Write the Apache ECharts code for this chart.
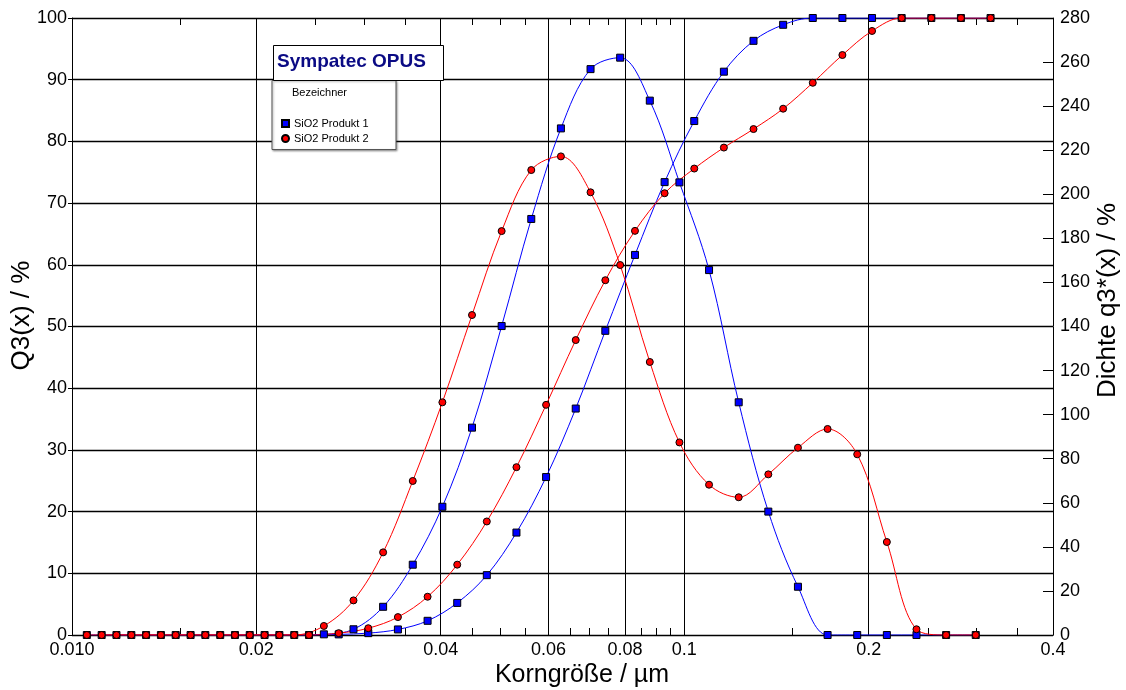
<!DOCTYPE html>
<html>
<head>
<meta charset="utf-8">
<script src="https://cdn.jsdelivr.net/npm/echarts@6/dist/echarts.min.js"></script>
<style>
html,body{margin:0;padding:0;background:#fff;}
#chart{width:1126px;height:690px;}
</style>
</head>
<body>
<div id="chart"></div>
<script>
// ---- data ----
// upper class limits (µm) where the cumulative Q3 values are given
const q3Sizes = [0.01118,0.01250,0.01397,0.01562,0.01746,0.01951,0.02181,0.02438,0.02726,0.03047,
  0.03406,0.03808,0.04257,0.04758,0.05319,0.05946,0.06647,0.07430,0.08306,0.09285,
  0.10380,0.11603,0.12971,0.14500,0.16209,0.18119,0.20255,0.22642,0.25311,0.28294,0.31629];
// class midpoints (µm) where the density q3* values are given
const densSizes = [0.010573,0.011819,0.013212,0.014769,0.016510,0.018456,0.020632,0.023064,0.025782,0.028821,
  0.032217,0.036015,0.040260,0.045005,0.050310,0.056240,0.062869,0.070279,0.078562,0.087822,
  0.098173,0.10974,0.12268,0.13714,0.15330,0.17137,0.19157,0.21415,0.23939,0.26761,0.29915];

const q3Produkt1 = [0,0,0,0,0,0,0,0,0.1,0.3,0.9,2.3,5.2,9.7,16.6,25.6,36.7,49.3,61.6,73.4,
  83.3,91.3,96.3,98.9,100,100,100,100,100,100,100];
const densProdukt1 = [0,0,0,0,0,0,0,0,0.3,2.6,12.8,31.9,58.2,94.1,140.2,188.8,229.9,256.8,262.0,242.5,
  205.4,165.6,105.6,56.0,21.9,0,0,0,0,0,0];
const q3Produkt2 = [0,0,0,0,0,0,0,0,0.3,1.1,2.9,6.2,11.4,18.4,27.2,37.3,47.8,57.5,65.5,71.6,
  75.6,79.0,82.0,85.3,89.5,94.0,97.9,100,100,100,100];
const densProdukt2 = [0,0,0,0,0,0,0,0,4.1,15.7,37.5,69.9,105.6,145.2,183.3,211.0,217.2,200.9,167.9,123.9,
  87.4,68.2,62.5,72.9,85.0,93.5,82.0,42.2,2.6,0,0];

const seriesNames = ['SiO2 Produkt 1','SiO2 Produkt 2'];

const xLabelValues = [0.01,0.02,0.04,0.06,0.08,0.1,0.2,0.4];
const xLabelTexts  = ['0.010','0.02','0.04','0.06','0.08','0.1','0.2','0.4'];
const xGridValues  = [0.02,0.04,0.06,0.08,0.1,0.2];
const xMinorValues = [0.015,0.025,0.03,0.035,0.045,0.05,0.055,0.065,0.07,0.075,0.085,0.09,0.095,0.15,0.25,0.3,0.35];

const X_MIN = 0.01, X_MAX = 0.4;
const FONT = "'Liberation Sans', Arial, sans-serif";

// ---- helpers ----
const zip = (xs, ys) => xs.map((x, i) => [x, ys[i]]);
const lg = v => Math.log10(v);
const LX_MIN = lg(X_MIN), LX_MAX = lg(X_MAX);
function xLabelFmt(v) {
  const i = xLabelValues.findIndex(t => Math.abs(lg(t) - v) < 1e-6);
  return i >= 0 ? xLabelTexts[i] : '';
}

const BLUE = '#0000ff', RED = '#ff0000';

function lineSeries(name, xs, ys, yIdx, color, symbol) {
  return {
    name: name, type: 'line', xAxisIndex: 0, yAxisIndex: yIdx,
    data: zip(xs, ys), smooth: 0.35, showAllSymbol: true,
    symbol: symbol, symbolSize: 7,
    lineStyle: { color: color, width: 1 },
    itemStyle: { color: color, borderColor: '#000', borderWidth: 1 },
    emphasis: { disabled: true }, z: 3
  };
}

const chart = echarts.init(document.getElementById('chart'), null, { renderer: 'canvas' });
chart.setOption({
  animation: false,
  backgroundColor: '#fff',
  textStyle: { fontFamily: FONT },
  grid: { left: 72, right: 73, top: 18, bottom: 55, containLabel: false, outerBoundsMode: 'none' },
  legend: {
    left: 276, top: 113, orient: 'vertical',
    itemWidth: 7, itemHeight: 7, itemGap: 4, itemTextGap: 10,
    selectedMode: false, z: 6,
    textStyle: { fontSize: 11, color: '#000', fontFamily: FONT },
    data: [{ name: seriesNames[0], icon: 'rect' }, { name: seriesNames[1], icon: 'circle' }]
  },
  graphic: [
    { type: 'rect', z: 5, shape: { x: 272, y: 80.5, width: 124, height: 69 },
      style: { fill: '#fff', stroke: '#555', lineWidth: 1, shadowBlur: 2, shadowColor: 'rgba(0,0,0,0.35)', shadowOffsetX: 1, shadowOffsetY: 1 } },
    { type: 'text', z: 6, left: 292, top: 87,
      style: { text: 'Bezeichner', fontSize: 11, fill: '#000', fontFamily: FONT } },
    { type: 'rect', z: 5, shape: { x: 273.5, y: 45.5, width: 170, height: 35 },
      style: { fill: '#fff', stroke: '#000', lineWidth: 1 } },
    { type: 'text', z: 6, left: 277, top: 52,
      style: { text: 'Sympatec OPUS', fontSize: 19, fontWeight: 'bold', fill: '#0a0a84', fontFamily: FONT } }
  ],
  xAxis: [
    { type: 'log', logBase: 10, min: X_MIN, max: X_MAX, show: false, position: 'bottom' },
    { type: 'value', min: LX_MIN, max: LX_MAX, position: 'bottom',
      axisLine: { show: true, onZero: false, lineStyle: { color: '#000', width: 1 } },
      axisTick: { show: false, customValues: xGridValues.map(lg) },
      splitLine: { show: true, lineStyle: { color: '#000', width: 1 } },
      axisLabel: { customValues: xLabelValues.map(lg), formatter: xLabelFmt,
        fontSize: 18, color: '#000', margin: 6, fontFamily: FONT },
      name: 'Korngröße / µm', nameLocation: 'middle', nameGap: 28, nameMoveOverlap: false,
      nameTextStyle: { fontSize: 25, color: '#000', fontFamily: FONT, padding: [0, 0, 0, 39] }
    },
    { type: 'value', min: LX_MIN, max: LX_MAX, position: 'bottom',
      axisLine: { show: false },
      axisTick: { show: true, inside: true, length: 7, customValues: xMinorValues.map(lg), lineStyle: { color: '#000', width: 1 } },
      splitLine: { show: false }, axisLabel: { show: false }
    },
    { type: 'value', min: LX_MIN, max: LX_MAX, position: 'top',
      axisLine: { show: true, onZero: false, lineStyle: { color: '#000', width: 1 } },
      axisTick: { show: true, inside: true, length: 7, customValues: xMinorValues.map(lg), lineStyle: { color: '#000', width: 1 } },
      splitLine: { show: false }, axisLabel: { show: false }
    }
  ],
  yAxis: [
    { type: 'value', min: 0, max: 100, interval: 10, position: 'left',
      axisLine: { show: true, onZero: false, lineStyle: { color: '#000', width: 1 } },
      axisTick: { show: true, inside: false, length: 4, lineStyle: { color: '#000' } },
      splitLine: { show: true, lineStyle: { color: '#000', width: 1.4 } },
      axisLabel: { fontSize: 18, color: '#000', margin: 5, fontFamily: FONT },
      name: 'Q3(x) / %', nameLocation: 'middle', nameRotate: 90, nameGap: 37, nameMoveOverlap: false,
      nameTextStyle: { fontSize: 26, color: '#000', fontFamily: FONT, padding: [0, 0, 0, 22] }
    },
    { type: 'value', min: 0, max: 280, interval: 20, position: 'right',
      axisLine: { show: true, onZero: false, lineStyle: { color: '#000', width: 1 } },
      axisTick: { show: true, inside: true, length: 10, lineStyle: { color: '#000' } },
      splitLine: { show: false },
      axisLabel: { fontSize: 18, color: '#000', margin: 7, fontFamily: FONT },
      name: 'Dichte q3*(x) / %', nameLocation: 'middle', nameRotate: 90, nameGap: 42, nameMoveOverlap: false,
      nameTextStyle: { fontSize: 26, color: '#000', fontFamily: FONT, padding: [0, 0, 0, 52] }
    }
  ],
  series: [
    lineSeries(seriesNames[0], q3Sizes, q3Produkt1, 0, BLUE, 'rect'),
    lineSeries(seriesNames[0], densSizes, densProdukt1, 1, BLUE, 'rect'),
    lineSeries(seriesNames[1], q3Sizes, q3Produkt2, 0, RED, 'circle'),
    lineSeries(seriesNames[1], densSizes, densProdukt2, 1, RED, 'circle')
  ]
});
</script>
</body>
</html>
